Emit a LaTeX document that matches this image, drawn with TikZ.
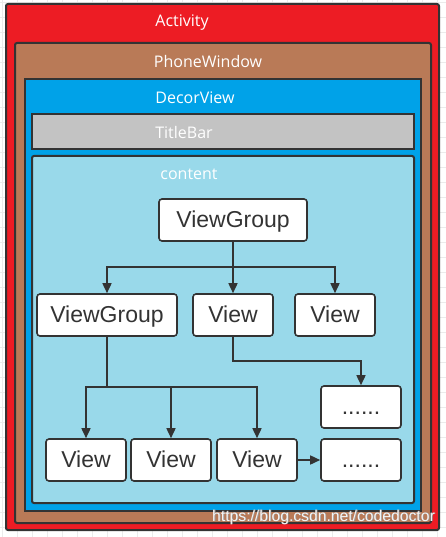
\documentclass[tikz,border=0pt]{standalone}
\usepackage{fontspec}
\setmainfont{Open Sans}
\newfontfamily\wmfont{Liberation Sans}
\usetikzlibrary{arrows.meta}
\definecolor{actred}{HTML}{ED1C24}
\definecolor{pwbrown}{HTML}{B97A57}
\definecolor{dvblue}{HTML}{00A2E8}
\definecolor{tbgray}{HTML}{C3C3C3}
\definecolor{ctblue}{HTML}{99D9EA}
\definecolor{edgedark}{HTML}{333333}
\definecolor{gridc}{HTML}{EBEBEB}
\tikzset{
  layer/.style={draw=edgedark, line width=2pt, rounded corners=2pt},
  layerlabel/.style={text=white, font=\fontsize{16}{18}\selectfont, inner sep=0pt},
  vbox/.style={draw=edgedark, fill=white, line width=1.6pt, rounded corners=3pt,
    minimum height=42pt, minimum width=80pt, inner sep=0pt, text=edgedark,
    text height=18pt, text depth=4pt,
    font=\wmfont\fontsize{23}{26}\selectfont},
  arr/.style={draw=edgedark, line width=1.6pt, -{Triangle[length=10pt,width=9pt]}},
  ln/.style={draw=edgedark, line width=1.6pt},
}
\begin{document}
\begin{tikzpicture}[x=1pt,y=-1pt]
\useasboundingbox (0,0) rectangle (446,537);
\fill[white] (0,0) rectangle (446,537);
\foreach \i in {0,...,29} {\draw[gridc, line width=0.8pt] (2+15*\i,0) -- (2+15*\i,537);}
\foreach \i in {0,...,35} {\draw[gridc, line width=0.8pt] (0,2+15*\i) -- (446,2+15*\i);}
% layers
\filldraw[layer, fill=actred] (6,4) rectangle (439,530);
\filldraw[layer, fill=pwbrown] (15,43) rectangle (431,523);
\filldraw[layer, fill=dvblue, rounded corners=0pt] (25,79) rectangle (421,511);
\filldraw[layer, fill=tbgray, rounded corners=0pt] (32,114) rectangle (414,149);
\filldraw[layer, fill=ctblue] (32,156) rectangle (414,503);
\node[layerlabel] (lact) at (182,23) {Activity};
\node[layerlabel] (lpw) at (208,62) {PhoneWindow};
\node[layerlabel] (ldv) at (195,98) {DecorView};
\node[layerlabel] (ltb) at (184,133) {TitleBar};
\node[layerlabel] (lct) at (189,174) {content};
% nodes
\node[vbox, minimum width=148pt] (vg1) at (233,220) {ViewGroup};
\node[vbox, minimum width=140pt] (vg2) at (107,315) {ViewGroup};
\node[vbox] (v1) at (233,315) {View};
\node[vbox] (v2) at (335,315) {View};
\node[vbox] (v3) at (86,460) {View};
\node[vbox] (v4) at (171,460) {View};
\node[vbox] (v5) at (257,460) {View};
\node[vbox] (d1) at (361,407) {......};
\node[vbox] (d2) at (361,460) {......};
% connectors
\coordinate (b1) at (233,267);
\coordinate (b2) at (107,387);
\coordinate (b3) at (233,361);
\draw[arr] (vg1.south) -- (v1.north);
\draw[arr] (b1) -| (vg2.north);
\draw[arr] (b1) -| (v2.north);
\draw[ln] (vg2.south) -- (b2);
\draw[arr] (b2) -| (v3.north);
\draw[arr] (b2) -| (v4.north);
\draw[arr] (b2) -| (v5.north);
\draw[arr] (v1.south) -- (b3) -| (d1.north);
\draw[arr] (v5.east) -- (d2.west);
% watermark
\node[text=gray!80, font=\wmfont\fontsize{15.7}{17}\selectfont, inner sep=0pt] (wms) at (324.3,517.6) {https://blog.csdn.net/codedoctor};
\node[text=white!92!gray, font=\wmfont\fontsize{15.7}{17}\selectfont, inner sep=0pt] (wm) at (323.5,517) {https://blog.csdn.net/codedoctor};
\end{tikzpicture}
\end{document}
